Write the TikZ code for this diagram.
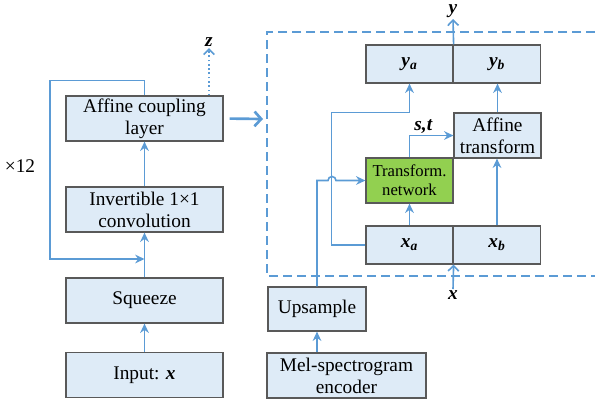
\documentclass[tikz,border=0pt]{standalone}
\usepackage{fontspec}
\setmainfont{Liberation Serif}
\newfontfamily\diagfont{Liberation Serif}
\definecolor{flowblue}{RGB}{91,155,213}
\definecolor{flowfill}{RGB}{222,235,247}
\definecolor{flowgreen}{RGB}{146,208,80}
\definecolor{flowgray}{RGB}{89,89,89}
\usetikzlibrary{arrows.meta,positioning,calc}
\newcommand{\bivec}[1]{\textbf{\textit{#1}}}

\begin{document}
\begin{tikzpicture}[x=0.75pt, y=-0.75pt,
    blk/.style={draw=flowgray, line width=0.9pt, fill=flowfill, align=center,
      inner sep=0pt, font=\diagfont\fontsize{14.5}{16.5}\selectfont},
    wideblk/.style={blk, minimum width=117.75pt, minimum height=33.75pt},
    halfblk/.style={blk, minimum width=65.25pt, minimum height=28.5pt},
    midblk/.style={blk, minimum width=65.25pt, minimum height=33.75pt},
    flow/.style={draw=flowblue, line width=1.2pt, -{Stealth[length=7pt,width=6.5pt]}},
    oflow/.style={draw=flowblue, line width=1.2pt, -{Straight Barb[length=4pt,width=8pt]}},
    lab/.style={inner sep=1pt, font=\diagfont\fontsize{14.5}{16.5}\selectfont}]
  \useasboundingbox (0,0) rectangle (595,405);
  % Flow steps (left)
  \node[wideblk] (inp) at (144.5,375) {Input: \bivec{x}};
  \node[wideblk] (sqz) at (144.5,300.5) {Squeeze};
  \node[wideblk] (inv) at (144.5,209.5) {Invertible 1×1\\convolution};
  \node[wideblk] (acl) at (144.5,118.5) {Affine coupling\\layer};
  \node[lab] (rep) at (20,166) {×12};
  \draw[flow] (inp) -- (sqz);
  \draw[flow] (sqz) -- (inv);
  \draw[flow] (inv) -- (acl);
  % Repeat loop
  \coordinate (lpin) at (144.5,259);
  \draw[flow] (acl.north) -- ++(0,-15) -| (50,259) -- (lpin);
  % Output z
  \coordinate (ztip) at (209,48);
  \node[lab, above=0pt of ztip] (zlab) {\bivec{z}};
  \draw[oflow, dotted] (acl.north -| ztip) -- (ztip);
  % Zoom into coupling layer
  \coordinate (cpl) at (263,119);
  \draw[draw=flowblue, line width=2pt, shorten <=4.5pt, -{Straight Barb[length=5pt,width=11pt]}] (acl.east) -- (cpl);
  \draw[flowblue, line width=1.2pt, dash pattern=on 6.5pt off 4pt]
    (595,32) -- (267,32) -- (267,276) -- (595,276);
  % Coupling layer (right)
  \node[halfblk] (ya) at (409.5,64) {\bivec{y\textsubscript{a}}};
  \node[halfblk] (yb) at (497,64) {\bivec{y\textsubscript{b}}};
  \node[halfblk] (xa) at (409.5,245) {\bivec{x\textsubscript{a}}};
  \node[halfblk] (xb) at (497,245) {\bivec{x\textsubscript{b}}};
  \node[midblk] (aff) at (497.5,135.5) {Affine\\transform};
  \node[midblk, fill=flowgreen, font=\diagfont\fontsize{12.5}{14.5}\selectfont] (tn) at (409.5,180.5) {Transform.\\network};
  \node[blk, minimum width=73.5pt, minimum height=33pt] (ups) at (317,309) {Upsample};
  \node[blk, minimum width=119.25pt, minimum height=33.75pt] (mel) at (346.5,375.5) {Mel-spectrogram\\encoder};
  \draw[flow] (xa.north) -- (tn.south);
  \draw[flow] (xb.north) -- (xb.north |- aff.south);
  \draw[flow] (aff.north) -- (aff.north |- yb.south);
  \draw[flow] (tn.north) |- node[lab, above, pos=0.66] {\bivec{s,t}} (aff.west);
  \draw[flow] (xa.west) -- ++(-34,0) |- ($(ya.south)+(0,29)$) -- (ya.south);
  \draw[flow] (mel.north -| ups) -- (ups.south);
  \draw[flow] (ups.north) |- (328,180.5) arc[start angle=180, end angle=0, radius=3pt] -- (tn.west);
  % In and out of the layer
  \coordinate (ytip) at (453,19);
  \node[lab, inner sep=0pt, above=1pt of ytip] (ylab) {\bivec{y}};
  \draw[oflow] (ya.north east) -- (ytip);
  \coordinate (xtail) at (453,289);
  \node[lab, below=0pt of xtail] (xlab) {\bivec{x}};
  \draw[oflow] (xtail) -- (xa.south east);
\end{tikzpicture}
\end{document}
